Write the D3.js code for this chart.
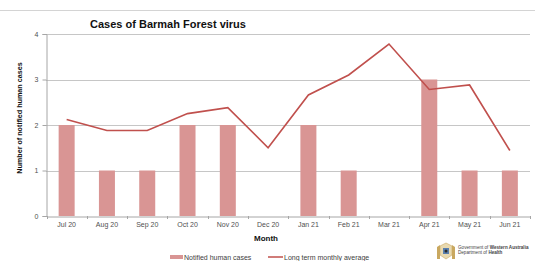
<!DOCTYPE html>
<html><head><meta charset="utf-8">
<script src="https://cdn.jsdelivr.net/npm/d3@7"></script>
<style>body{margin:0;background:#fff}svg{display:block;font-family:"Liberation Sans",Arial,sans-serif}</style>
</head><body><div id="chart"></div>
<script>
const months = ["Jul 20","Aug 20","Sep 20","Oct 20","Nov 20","Dec 20","Jan 21","Feb 21","Mar 21","Apr 21","May 21","Jun 21"];
const notifiedCases = [2,1,1,2,2,0,2,1,0,3,1,1];
const longTermAverage = [2.12,1.88,1.88,2.25,2.38,1.5,2.66,3.1,3.78,2.78,2.88,1.44];
const yTicks = [0,1,2,3,4];
const title = "Cases of Barmah Forest virus";
const yLabel = "Number of notified human cases";
const xLabel = "Month";
const legendLabels = ["Notified human cases","Long term monthly average"];

const W=536,H=261;
const svg=d3.select("#chart").append("svg").attr("width",W).attr("height",H);
const y=d3.scaleLinear().domain([0,4]).range([216,34]);
const barColor="#d99594", lineColor="#c0504d", grid="#c6c6c6";

svg.append("line").attr("x1",0).attr("x2",535).attr("y1",10.5).attr("y2",10.5).attr("stroke","#d4d4d4");

// gridlines
svg.append("g").selectAll("line").data(yTicks.filter(d=>d>0)).join("line")
 .attr("x1",46).attr("x2",530).attr("y1",d=>Math.round(y(d))+0.5).attr("y2",d=>Math.round(y(d))+0.5)
 .attr("stroke",grid);

// y axis
const ya=svg.append("g").attr("transform","translate(46.5,0)").call(d3.axisLeft(y).tickValues(yTicks).tickFormat(d3.format("d")).tickSize(4).tickPadding(4));
ya.select(".domain").attr("stroke","#a6a6a6");
ya.selectAll(".tick line").attr("stroke","#a6a6a6");
ya.selectAll("text").attr("font-size","7px").attr("fill","#505050");

// bars
const xb=d3.scaleBand().domain(months).range([46.5,530]);
svg.append("g").selectAll("rect").data(notifiedCases).join("rect")
 .attr("x",(d,i)=>xb(months[i])+xb.bandwidth()/2-8).attr("width",16)
 .attr("y",d=>y(d)).attr("height",d=>y(0)-y(d)).attr("fill",barColor);

// x axis
const xa=svg.append("g").attr("transform","translate(0,216.5)").call(d3.axisBottom(xb).tickSize(0).tickPadding(6));
xa.select(".domain").attr("stroke","#a6a6a6");
xa.selectAll("text").attr("font-size","7px").attr("fill","#505050");
svg.append("g").selectAll("line").data(d3.range(13)).join("line")
 .attr("x1",i=>Math.round(46.5+i*xb.step())+0.5).attr("x2",i=>Math.round(46.5+i*xb.step())+0.5)
 .attr("y1",216).attr("y2",219).attr("stroke","#a6a6a6");

// line
const line=d3.line().x((d,i)=>xb(months[i])+xb.bandwidth()/2).y(d=>y(d));
svg.append("path").datum(longTermAverage).attr("d",line).attr("fill","none").attr("stroke",lineColor).attr("stroke-width",1.6);

// titles
svg.append("text").attr("x",168).attr("y",28).attr("text-anchor","middle").attr("font-size","11px").attr("font-weight","bold").attr("fill","#111").text(title);
svg.append("text").attr("transform","translate(22,118) rotate(-90)").attr("text-anchor","middle").attr("font-size","7.2px").attr("font-weight","bold").attr("fill","#111").text(yLabel);
svg.append("text").attr("x",266).attr("y",241).attr("text-anchor","middle").attr("font-size","8px").attr("font-weight","bold").attr("fill","#111").text(xLabel);

// legend
const lg=svg.append("g");
lg.append("rect").attr("x",170).attr("y",255).attr("width",13).attr("height",4).attr("fill",barColor);
lg.append("text").attr("x",184).attr("y",259.5).attr("font-size","7px").attr("fill","#404040").text(legendLabels[0]);
lg.append("line").attr("x1",268).attr("x2",283).attr("y1",257).attr("y2",257).attr("stroke",lineColor).attr("stroke-width",1.5);
lg.append("text").attr("x",284).attr("y",259.5).attr("font-size","7px").attr("fill","#404040").text(legendLabels[1]);

// logo
const logo=svg.append("g");
logo.append("path").attr("d","M440,246 L446,243 L452,246 L452,255 L446,259 L440,255 Z").attr("fill","#e8d9b0").attr("stroke","#c9a860").attr("stroke-width",0.6);
logo.append("rect").attr("x",443).attr("y",248).attr("width",6).attr("height",6).attr("fill","#5a7fae");
logo.append("circle").attr("cx",446).attr("cy",251).attr("r",1.5).attr("fill","#2b2b2b");
logo.append("path").attr("d","M437,247 L440,245 L440,259 L437,259 Z").attr("fill","#c9a860");
logo.append("path").attr("d","M455,247 L452,245 L452,259 L455,259 Z").attr("fill","#c9a860");
logo.append("text").attr("x",458).attr("y",248.5).attr("font-size","4.6px").attr("fill","#444").html('Government of <tspan font-weight="bold">Western Australia</tspan>');
logo.append("text").attr("x",458).attr("y",254).attr("font-size","4.6px").attr("fill","#444").html('Department of <tspan font-weight="bold">Health</tspan>');
</script></body></html>
